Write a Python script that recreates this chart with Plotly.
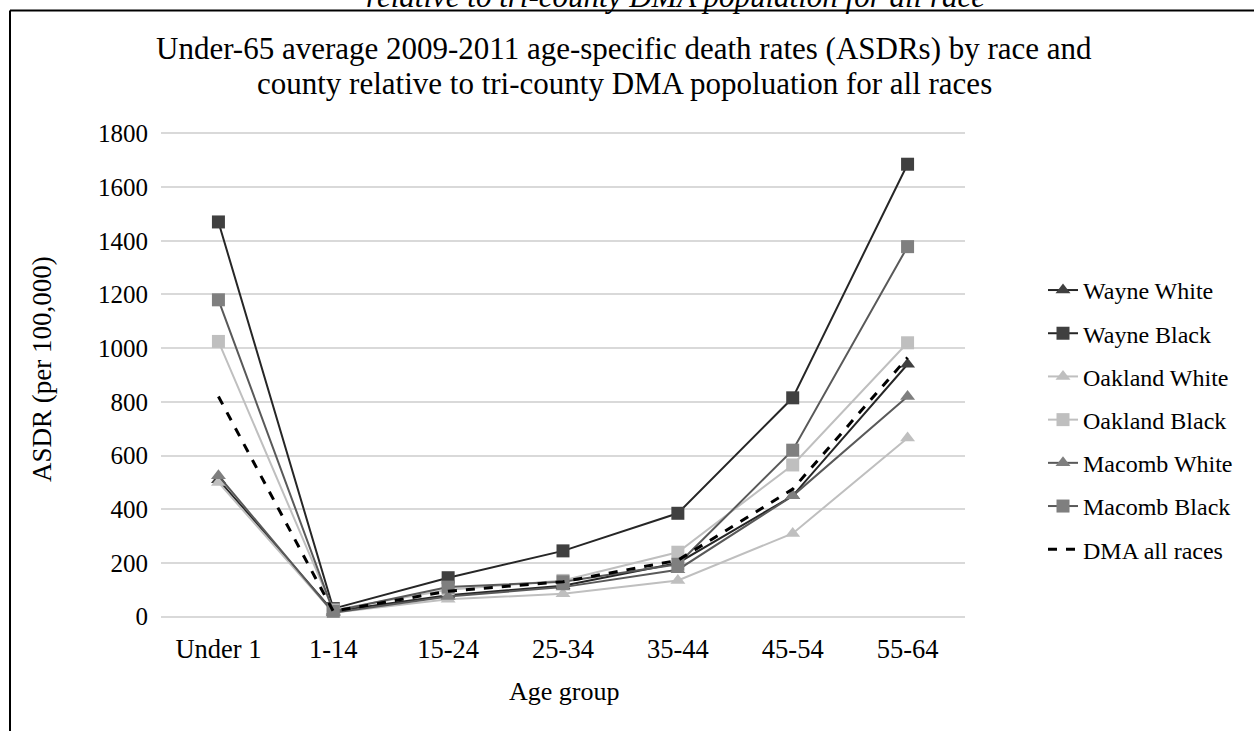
import plotly.graph_objects as go

age_groups = ["Under 1", "1-14", "15-24", "25-34", "35-44", "45-54", "55-64"]

wayne_white = [510, 20, 80, 115, 200, 450, 940]
wayne_black = [1470, 30, 145, 245, 385, 815, 1685]
oakland_white = [500, 15, 65, 85, 135, 310, 665]
oakland_black = [1025, 25, 100, 135, 240, 565, 1020]
macomb_white = [525, 15, 75, 110, 175, 450, 820]
macomb_black = [1180, 20, 110, 130, 195, 620, 1378]
dma_all = [820, 20, 95, 130, 210, 475, 965]

series = [
    ("Wayne White", wayne_white, "#262626", "#404040", "triangle-up"),
    ("Wayne Black", wayne_black, "#262626", "#404040", "square"),
    ("Oakland White", oakland_white, "#BFBFBF", "#BFBFBF", "triangle-up"),
    ("Oakland Black", oakland_black, "#BFBFBF", "#BFBFBF", "square"),
    ("Macomb White", macomb_white, "#595959", "#7F7F7F", "triangle-up"),
    ("Macomb Black", macomb_black, "#595959", "#7F7F7F", "square"),
]

title_lines = [
    "Under-65 average 2009-2011 age-specific death rates (ASDRs) by race and",
    "county relative to tri-county DMA popoluation for all races",
]
clipped_caption = "relative to tri-county DMA population for all race"

FONT = "Liberation Serif, Times New Roman, serif"
W, H = 1254, 731
Y0_PX, Y1800_PX = 617.0, 133.0
YMIN, YMAX = -5, 1805
ppu = (Y0_PX - Y1800_PX) / 1800.0
L, R = 161, 965
T = Y1800_PX - (YMAX - 1800) * ppu
B = Y0_PX + (0 - YMIN) * ppu

fig = go.Figure()
for i, (name, vals, lc, mc, sym) in enumerate(series):
    fig.add_trace(go.Scatter(
        x=age_groups, y=vals, name=name, mode="lines+markers",
        line=dict(color=lc, width=2),
        marker=dict(symbol=sym, size=13, color=mc, line=dict(width=0)),
        legendgroup=f"g{i}",
    ))
fig.add_trace(go.Scatter(
    x=age_groups, y=dma_all, name="DMA all races", mode="lines",
    line=dict(color="#000000", width=3, dash="dash"),
    legendgroup="g6",
))

def px_x(p):
    return (p - L) / (R - L)

def px_y(p):
    return (B - p) / (B - T)

annotations = [
    dict(text="ASDR (per 100,000)", xref="paper", yref="paper",
         x=px_x(42), y=px_y(369), xanchor="center", yanchor="middle",
         textangle=-90, showarrow=False,
         font=dict(family=FONT, size=27, color="#000000")),
    dict(text="Age group", xref="paper", yref="paper",
         x=px_x(564), y=px_y(692), xanchor="center", yanchor="middle",
         showarrow=False,
         font=dict(family=FONT, size=26, color="#000000")),
    dict(text="<i>" + clipped_caption + "</i>",
         xref="paper", yref="paper",
         x=px_x(675), y=px_y(-4), xanchor="center", yanchor="middle",
         showarrow=False,
         font=dict(family=FONT, size=31, color="#000000")),
]
for txt, yc in zip(title_lines, [48, 83]):
    annotations.append(dict(
        text=txt, xref="paper", yref="paper",
        x=px_x(624), y=px_y(yc), xanchor="center", yanchor="middle",
        showarrow=False,
        font=dict(family=FONT, size=31, color="#000000")))

fig.update_layout(
    width=W, height=H,
    margin=dict(l=L, r=W - R, t=T, b=H - B, autoexpand=False),
    paper_bgcolor="white", plot_bgcolor="white",
    font=dict(family=FONT, size=25, color="#000000"),
    xaxis=dict(
        type="category", range=[-0.5, 6.5],
        showgrid=False, showline=False, zeroline=False, ticks="",
        ticklabelstandoff=12,
        tickfont=dict(family=FONT, size=26.5, color="#000000"),
    ),
    yaxis=dict(
        range=[YMIN, YMAX], dtick=200, tick0=0, tickmode="linear",
        showgrid=True, gridcolor="#D9D9D9", gridwidth=1.5,
        zeroline=False, showline=False, ticks="",
        ticklabelstandoff=12,
        tickfont=dict(family=FONT, size=25, color="#000000"),
    ),
    showlegend=True,
    legend=dict(
        x=px_x(1043), xanchor="left", y=px_y(420), yanchor="middle",
        font=dict(family=FONT, size=24, color="#000000"),
        tracegroupgap=9, bgcolor="rgba(0,0,0,0)",
    ),
    shapes=[
        dict(type="line", xref="paper", yref="paper",
             x0=px_x(10), x1=px_x(1260), y0=px_y(10), y1=px_y(10),
             line=dict(color="#000000", width=2)),
        dict(type="line", xref="paper", yref="paper",
             x0=px_x(10), x1=px_x(10), y0=px_y(10), y1=px_y(740),
             line=dict(color="#000000", width=2)),
    ],
    annotations=annotations,
)

fig.write_html("out.html")
